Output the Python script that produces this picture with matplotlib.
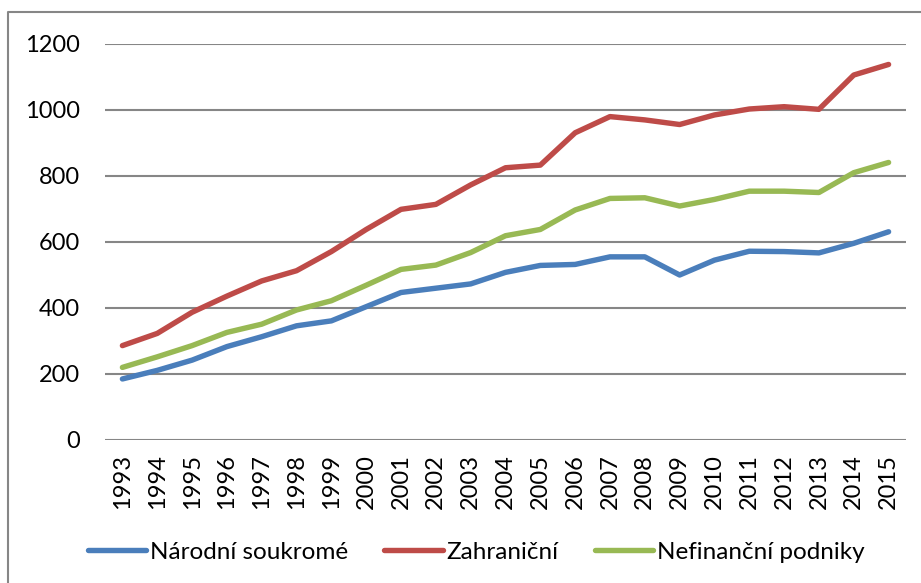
import matplotlib
matplotlib.use('Agg')
from matplotlib import pyplot as plt
from matplotlib.lines import Line2D

plt.rcParams['font.family'] = ['Lato', 'DejaVu Sans']

# roky a tři řady
roky = [str(r) for r in range(1993, 2016)]
narodni = [185, 211, 242, 283, 313, 346, 361, 404, 447, 460, 473, 508,
           529, 532, 555, 555, 500, 545, 572, 571, 567, 596, 631]
zahranicni = [286, 323, 387, 436, 482, 513, 571, 638, 699, 714, 773, 825,
              833, 931, 980, 970, 956, 985, 1003, 1010, 1002, 1106, 1138]
nefinancni = [220, 252, 286, 326, 351, 394, 422, 469, 517, 530, 568, 619,
              638, 697, 732, 734, 709, 729, 754, 754, 750, 810, 841]
yticks = [0, 200, 400, 600, 800, 1000, 1200]

W, H = 921, 583
fig = plt.figure(figsize=(W / 100, H / 100), dpi=100)
ax = fig.add_axes([105 / W, 1 - 440 / H, (906 - 105) / W, (440 - 44) / H])

x = range(len(roky))
ax.plot(x, narodni, color='#4A7EBB', lw=3.9, solid_capstyle='round', label='Národní soukromé')
ax.plot(x, zahranicni, color='#BE4B48', lw=3.9, solid_capstyle='round', label='Zahraniční')
ax.plot(x, nefinancni, color='#98B954', lw=3.9, solid_capstyle='round', label='Nefinanční podniky')

ax.set_xlim(-0.5, len(roky) - 0.5)
ax.set_ylim(0, 1200)
ax.set_yticks(yticks)
ax.set_yticklabels([str(v) for v in yticks], fontsize=17)
ax.set_xticks(list(x))
ax.set_xticklabels(roky, rotation=90, fontsize=17)
ax.tick_params(length=0)
ax.tick_params(axis='y', pad=18)
ax.tick_params(axis='x', pad=10)
ax.grid(axis='y', color='#868686', lw=1.5)
ax.set_axisbelow(True)
for s in ax.spines.values():
    s.set_visible(False)

leg = fig.legend(loc='center', bbox_to_anchor=(476 / W, 1 - 552 / H), ncol=3,
                 frameon=False, fontsize=17.5, handlelength=2.4, handletextpad=0.15,
                 columnspacing=1.5, borderaxespad=0)

# rámeček grafu (jen horní a levá hrana)
fig.add_artist(Line2D([8 / W, 8 / W, 1], [0, 1 - 12 / H, 1 - 12 / H],
                      transform=fig.transFigure, color='#868686', lw=1.5))

fig.savefig('out.png', dpi=100)
